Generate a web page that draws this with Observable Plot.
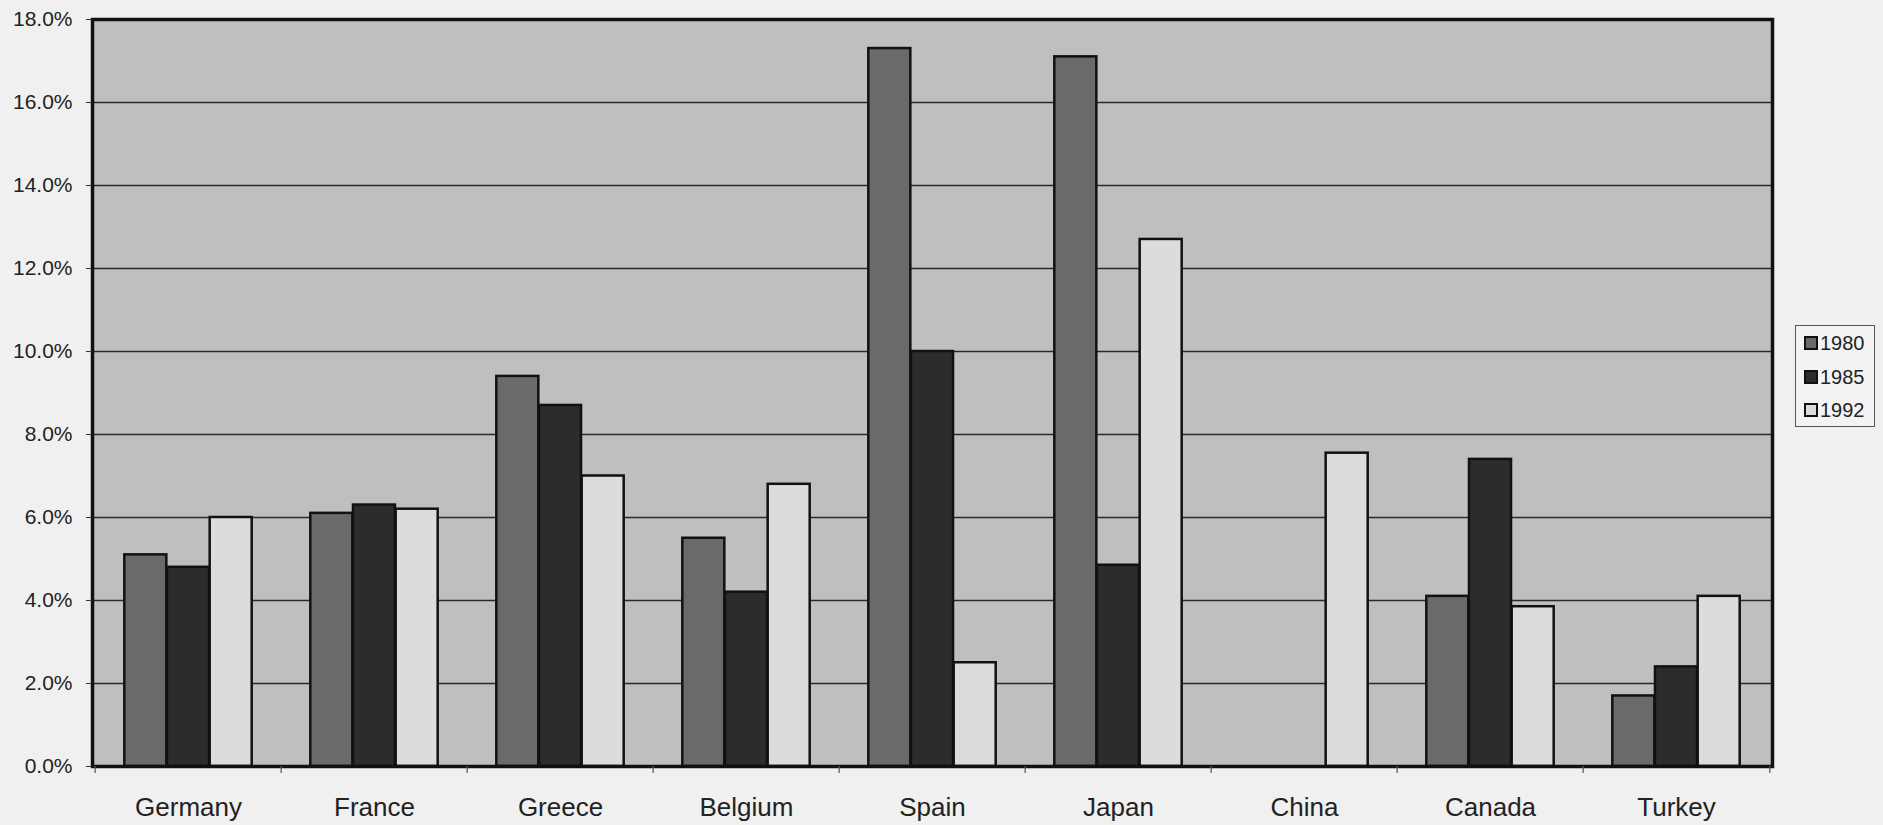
<!DOCTYPE html>
<html><head><meta charset="utf-8">
<script src="https://cdn.jsdelivr.net/npm/d3@7"></script>
<script src="https://cdn.jsdelivr.net/npm/@observablehq/plot@0.6"></script>
<style>
body{margin:0;background:#f0f0f0;font-family:"Liberation Sans",Arial,sans-serif;}
#wrap{position:relative;width:1883px;height:825px;}
#legend{position:absolute;left:1795px;top:325px;width:80px;height:102px;border:1px solid #555;box-sizing:border-box;background:#f3f3f3;}
.item{position:absolute;left:8px;display:flex;align-items:center;font-size:20px;line-height:20px;color:#222;}
.sw{width:10px;height:10px;border:2px solid #111;margin-right:2px;}
</style></head><body><div id="wrap"></div>
<script>
const countries = ["Germany","France","Greece","Belgium","Spain","Japan","China","Canada","Turkey"];
const years = ["1980","1985","1992"];
const v1980 = [5.1, 6.1, 9.4, 5.5, 17.3, 17.1, null, 4.1, 1.7];
const v1985 = [4.8, 6.3, 8.7, 4.2, 10.0, 4.85, null, 7.4, 2.4];
const v1992 = [6.0, 6.2, 7.0, 6.8, 2.5, 12.7, 7.55, 3.85, 4.1];
const yTicks = [0, 2, 4, 6, 8, 10, 12, 14, 16, 18];
const colors = ["#6a6a6a", "#2c2c2c", "#dcdcdc"];

const W = 1883, H = 825, mL = 92, mR = 111, mT = 19, mB = 59;
const series = [v1980, v1985, v1992];
const rows = [];
years.forEach((yr, i) => countries.forEach((c, j) => {
  if (series[i][j] != null) rows.push({country: c, year: yr, value: series[i][j]});
}));
const step = (W - mL - mR) / countries.length;
const gapHalf = step * 0.157, bw = step * 0.686 / 3;

const chart = Plot.plot({
  width: W, height: H,
  marginLeft: mL, marginRight: mR, marginTop: mT, marginBottom: mB,
  style: {background: "transparent", fontFamily: "'Liberation Sans', Arial, sans-serif", color: "#222"},
  x: {domain: countries, padding: 0, label: null},
  y: {domain: [0, 18], label: null},
  marks: [
    Plot.frame({fill: "#bfbfbf", stroke: null}),
    Plot.ruleY(yTicks.filter(t => t > 0 && t < 18), {stroke: "#2a2a2a", strokeWidth: 1.4}),
    ...years.map((yr, i) => Plot.barY(rows.filter(r => r.year === yr), {
      x: "country", y: "value", fill: colors[i], stroke: "#111", strokeWidth: 2.5,
      insetLeft: gapHalf + i * bw, insetRight: gapHalf + (2 - i) * bw
    })),
    Plot.frame({stroke: "#111", strokeWidth: 3.5}),
    Plot.axisY({ticks: yTicks, tickFormat: d => d.toFixed(1) + "%", tickSize: 6, tickPadding: 14, fontSize: 21, stroke: "#333", label: null}),
    Plot.axisX({tickSize: 0, tickPadding: 31, fontSize: 26, label: null}),
    Plot.ruleX(countries, {x: d => d, y1: 0, y2: -0.17, dx: -step / 2, stroke: "#555", strokeWidth: 1.2}),
    Plot.ruleX(countries.slice(-1), {x: d => d, y1: 0, y2: -0.17, dx: step / 2, stroke: "#555", strokeWidth: 1.2})
  ]
});
const wrap = document.getElementById("wrap");
wrap.appendChild(chart);

const legend = document.createElement("div");
legend.id = "legend";
years.forEach((yr, i) => {
  const it = document.createElement("div");
  it.className = "item";
  it.style.top = (7 + i * 33.5) + "px";
  const sw = document.createElement("span");
  sw.className = "sw";
  sw.style.background = colors[i];
  it.appendChild(sw);
  it.appendChild(document.createTextNode(yr));
  legend.appendChild(it);
});
wrap.appendChild(legend);
</script>
</body></html>
